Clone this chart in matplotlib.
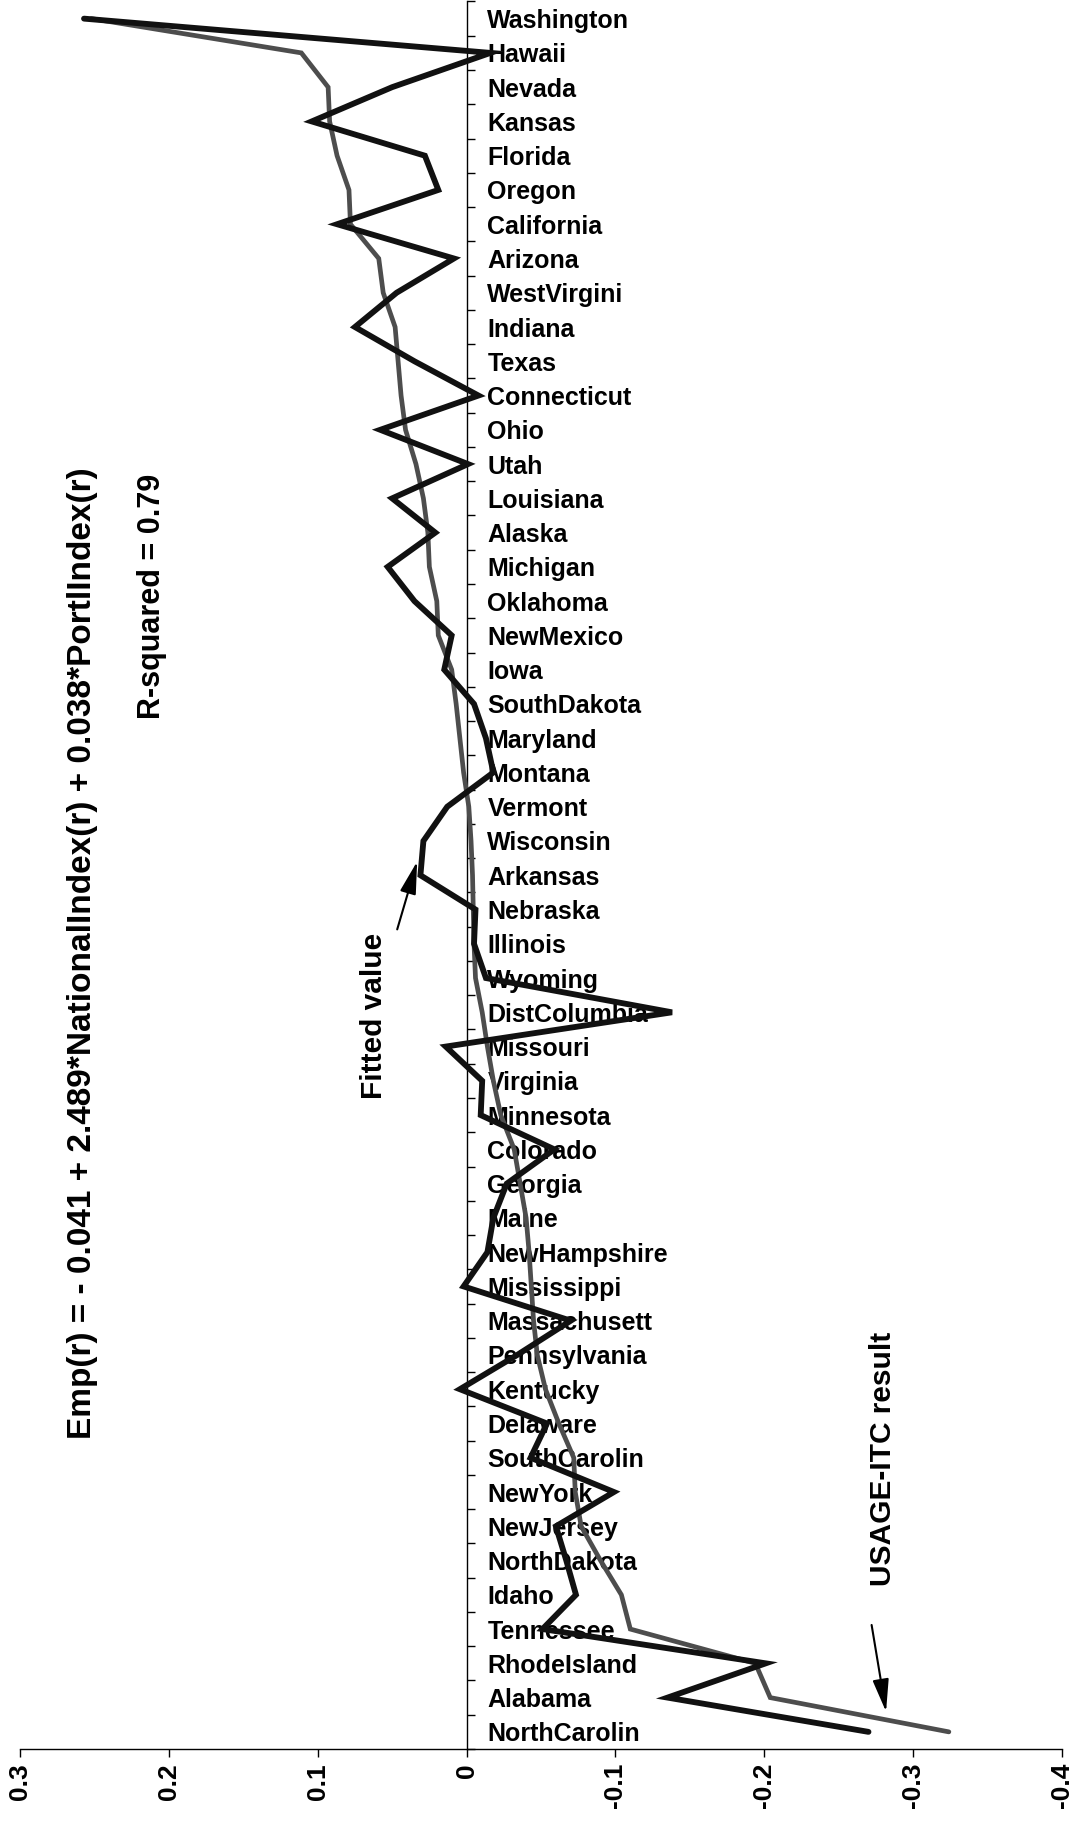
import numpy as np
import matplotlib
matplotlib.use("Agg")
import matplotlib.pyplot as plt

plt.rcParams['font.family'] = ['Liberation Sans', 'DejaVu Sans']
plt.rcParams['font.weight'] = 'bold'

# states, top to bottom
states = ["Washington", "Hawaii", "Nevada", "Kansas", "Florida", "Oregon",
          "California", "Arizona", "WestVirgini", "Indiana", "Texas",
          "Connecticut", "Ohio", "Utah", "Louisiana", "Alaska", "Michigan",
          "Oklahoma", "NewMexico", "Iowa", "SouthDakota", "Maryland",
          "Montana", "Vermont", "Wisconsin", "Arkansas", "Nebraska",
          "Illinois", "Wyoming", "DistColumbia", "Missouri", "Virginia",
          "Minnesota", "Colorado", "Georgia", "Maine", "NewHampshire",
          "Mississippi", "Massachusett", "Pennsylvania", "Kentucky",
          "Delaware", "SouthCarolin", "NewYork", "NewJersey", "NorthDakota",
          "Idaho", "Tennessee", "RhodeIsland", "Alabama", "NorthCarolin"]

# USAGE-ITC result (grey line)
usage_itc = [0.252, 0.111, 0.093, 0.092, 0.087, 0.079,
             0.078, 0.059, 0.056, 0.048, 0.046,
             0.044, 0.041, 0.034, 0.029, 0.026, 0.025,
             0.020, 0.019, 0.010, 0.007, 0.0045,
             0.002, -0.0015, -0.003, -0.004, -0.0045,
             -0.005, -0.006, -0.0105, -0.014, -0.018,
             -0.023, -0.032, -0.036, -0.040, -0.042,
             -0.0435, -0.045, -0.0475, -0.053,
             -0.062, -0.072, -0.073, -0.077, -0.090,
             -0.104, -0.110, -0.194, -0.204, -0.324]

# fitted value from the regression (black line)
fitted = [0.257, -0.016, 0.050, 0.104, 0.028, 0.019,
          0.087, 0.0085, 0.047, 0.075, 0.035,
          -0.008, 0.058, -0.001, 0.050, 0.021, 0.053,
          0.035, 0.010, 0.015, -0.005, -0.013,
          -0.018, 0.013, 0.029, 0.031, -0.006,
          -0.005, -0.013, -0.138, 0.014, -0.0105,
          -0.0095, -0.059, -0.027, -0.018, -0.014,
          0.002, -0.070, -0.034, 0.0045,
          -0.054, -0.043, -0.099, -0.060, -0.067,
          -0.0735, -0.051, -0.201, -0.135, -0.270]

x_ticks = [0.3, 0.2, 0.1, 0.0, -0.1, -0.2, -0.3, -0.4]
x_ticklabels = ["0.3", "0.2", "0.1", "0", "-0.1", "-0.2", "-0.3", "-0.4"]

equation = "Emp(r) = - 0.041 + 2.489*NationalIndex(r) + 0.038*PortlIndex(r)"
rsq = "R-squared = 0.79"

fig = plt.figure(figsize=(10.8, 18.21), dpi=100)
ax = fig.add_axes([20 / 1080, 72 / 1821, 1042 / 1080, 1747.5 / 1821])

ypos = np.arange(len(states))
ax.plot(usage_itc, ypos, color="#4d4d4d", lw=3.4, solid_capstyle="round",
        solid_joinstyle="miter", zorder=3, clip_on=False)
ax.plot(fitted, ypos, color="#111111", lw=4.2, solid_capstyle="round",
        solid_joinstyle="miter", zorder=4, clip_on=False)

ax.set_xlim(0.3, -0.4)
ax.set_ylim(len(states) - 0.5, -0.5)

# category axis sits at x = 0, labels to its right
ax.spines["top"].set_visible(False)
ax.spines["left"].set_visible(False)
ax.spines["right"].set_position(("data", 0))
ax.spines["right"].set_linewidth(1.0)
ax.spines["bottom"].set_linewidth(1.0)
ax.yaxis.tick_right()
ax.set_yticks(ypos)
ax.set_yticklabels(states, fontsize=18, fontweight="bold")
ax.set_yticks(np.arange(-0.5, len(states), 1.0), minor=True)
ax.tick_params(axis="y", which="major", length=0, pad=15)
ax.tick_params(axis="y", which="minor", length=6, width=1.0, direction="out")

ax.set_xticks(x_ticks)
ax.set_xticklabels(x_ticklabels, rotation=90, fontsize=19, fontweight="bold")
ax.tick_params(axis="x", which="major", length=6, width=1.0, direction="out", pad=4)

# annotations
ax.text(0.2582, 27.28, equation, rotation=90, ha="center", va="center",
        fontsize=24, fontweight="bold")
ax.text(0.2112, 16.86, rsq, rotation=90, ha="center", va="center",
        fontsize=22, fontweight="bold")
ax.text(0.0625, 29.12, "Fitted value", rotation=90, ha="center", va="center",
        fontsize=21.5, fontweight="bold")
ax.text(-0.2798, 42.02, "USAGE-ITC result", rotation=90, ha="center", va="center",
        fontsize=21.5, fontweight="bold")

arrow = dict(arrowstyle="-|>,head_length=1.0,head_width=0.25", color="black",
             lw=1.5, shrinkA=0, shrinkB=0, mutation_scale=20)
ax.annotate("", xy=(0.0332, 24.6), xytext=(0.0466, 26.58), arrowprops=arrow)
ax.annotate("", xy=(-0.2818, 49.41), xytext=(-0.2721, 46.88), arrowprops=arrow)

fig.savefig("out.png", dpi=100)
